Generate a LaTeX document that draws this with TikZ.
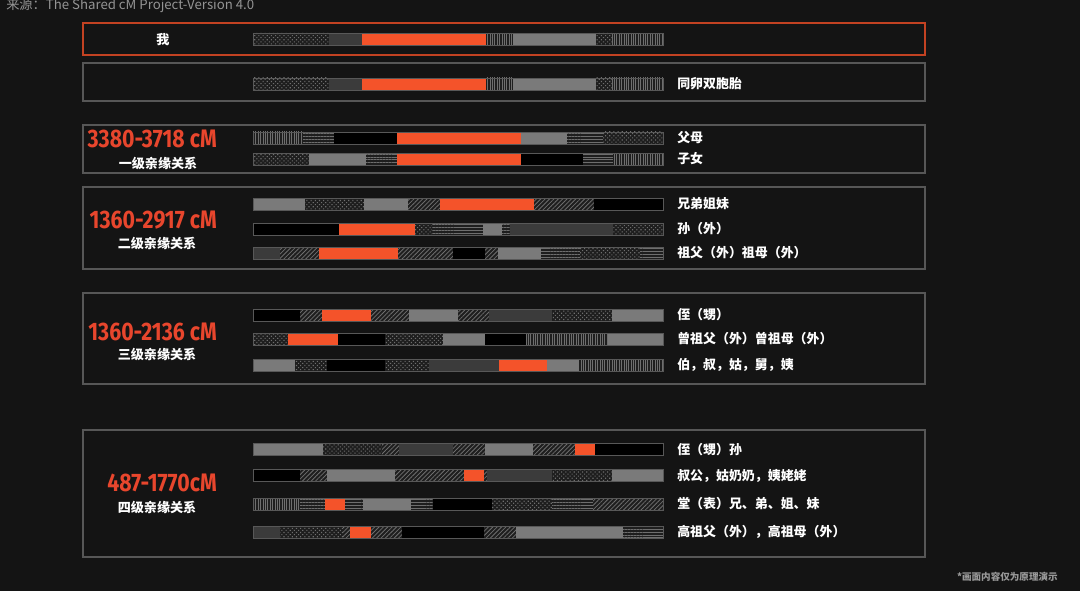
\documentclass[tikz,border=0pt]{standalone}
\usepackage{fontspec}
\usetikzlibrary{patterns.meta}
\newfontfamily\cjk{Noto Sans CJK SC}
\newfontfamily\numfont{Fira Sans}[FakeStretch=0.84]
\definecolor{Bg}{HTML}{141414}
\definecolor{Accent}{HTML}{F4532A}
\definecolor{NumRed}{HTML}{E8462D}
\definecolor{LightGray}{HTML}{7A7A7A}
\definecolor{DarkGray}{HTML}{3B3B3B}
\definecolor{PatBg}{HTML}{1E1E1E}
\definecolor{PatFg}{HTML}{6E6E6E}
\definecolor{Edge}{HTML}{585858}
\definecolor{Frame}{HTML}{575757}

\begin{document}
\begin{tikzpicture}[
    x=0.025cm, y=-0.025cm,
    frame/.style={draw=Frame, line width=0.8pt},
    selfframe/.style={draw=Accent!80!black, line width=1.3pt},
    baredge/.style={draw=Edge, line width=0.5pt},
    segorange/.style={fill=Accent},
    seglight/.style={fill=LightGray},
    segdark/.style={fill=DarkGray},
    segblack/.style={fill=black},
    segdots/.style={preaction={fill=PatBg}, pattern color=PatFg,
        pattern={Dots[distance=2.1pt, radius=0.55pt, angle=45]}},
    segvert/.style={preaction={fill=PatBg}, pattern color=PatFg,
        pattern={Lines[angle=90, distance=1.7pt, line width=0.55pt]}},
    seghorz/.style={preaction={fill=PatBg}, pattern color=PatFg,
        pattern={Lines[angle=0, distance=2.1pt, line width=0.55pt]}},
    seghatch/.style={preaction={fill=PatBg}, pattern color=PatFg,
        pattern={Lines[angle=45, distance=2.2pt, line width=0.6pt]}},
    relname/.style={font=\cjk\bfseries\fontsize{9.2}{10}\selectfont,
        text=white, anchor=west, inner sep=0pt},
    grade/.style={font=\cjk\bfseries\fontsize{9.3}{10}\selectfont,
        text=white, inner sep=0pt},
    cmrange/.style={font=\numfont\bfseries\fontsize{18}{19}\selectfont,
        text=NumRed, anchor=east, inner sep=0pt},
]

%% background
\fill[Bg] (0,0) rectangle (1080,591);
\useasboundingbox (0,0) rectangle (1080,591);

%% source line
\node[font=\cjk\fontsize{9.4}{10}\selectfont, text=black!42, anchor=west,
    inner sep=0pt] (source) at (6,6) {来源：The Shared cM Project-Version 4.0};

%% frames
\draw[selfframe] (83,23) rectangle (925,55);
\draw[frame] (83,63) rectangle (925,101);
\draw[frame] (83,125) rectangle (925,173);
\draw[frame] (83,187) rectangle (925,269);
\draw[frame] (83,293) rectangle (925,384);
\draw[frame] (83,430) rectangle (925,557);

%% me and twin
\node[grade] (me) at (163,40) {我};
\foreach \y in {33,78} {
    \foreach \a/\b/\s in {253/329/segdots, 329/362/segdark, 362/486/segorange,
        486/513/segvert, 513/596/seglight, 596/612/segdots, 612/663/segvert}
        \fill[\s] (\a,\y) rectangle (\b,\y+12);
    \draw[baredge] (253,\y) rectangle (663,\y+12);
}
\node[relname] (twin) at (677,84) {同卵双胞胎};

%% first degree
\node[cmrange] (range1) at (217,139) {3380-3718 cM};
\node[grade] (deg1) at (158,163) {一级亲缘关系};
\foreach \a/\b/\s in {253/303/segvert, 303/334/seghorz, 334/397/segblack,
    397/521/segorange, 521/567/seglight, 567/603/seghorz, 603/663/segdots}
    \fill[\s] (\a,132) rectangle (\b,144);
\foreach \a/\b/\s in {253/309/segdots, 309/366/seglight, 366/397/seghorz,
    397/521/segorange, 521/583/segblack, 583/613/seghorz, 613/663/segvert}
    \fill[\s] (\a,153) rectangle (\b,165);
\foreach \y in {132,153} \draw[baredge] (253,\y) rectangle (663,\y+12);
\node[relname] (parent) at (677,138) {父母};
\node[relname] (child) at (677,159) {子女};

%% second degree
\node[cmrange] (range2) at (217,220) {1360-2917 cM};
\node[grade] (deg2) at (157,243) {二级亲缘关系};
\foreach \a/\b/\s in {253/305/seglight, 305/364/segdots, 364/408/seglight,
    408/440/seghatch, 440/534/segorange, 534/594/seghatch, 594/663/segblack}
    \fill[\s] (\a,198) rectangle (\b,210);
\foreach \a/\b/\s in {253/339/segblack, 339/415/segorange, 415/432/segdots,
    432/483/seghorz, 483/502/seglight, 502/510/seghorz, 510/613/segdark,
    613/663/segdots}
    \fill[\s] (\a,223) rectangle (\b,235);
\foreach \a/\b/\s in {253/280/segdark, 280/319/seghatch, 319/398/segorange,
    398/453/seghatch, 453/485/segblack, 485/498/seghatch, 498/541/seglight,
    541/580/seghorz, 580/640/segdots, 640/663/seghorz}
    \fill[\s] (\a,247) rectangle (\b,259);
\foreach \y in {198,223,247} \draw[baredge] (253,\y) rectangle (663,\y+12);
\node[relname] (sibling) at (677,204) {兄弟姐妹};
\node[relname] (grandchild) at (677,229) {孙（外）};
\node[relname] (grandparent) at (677,253) {祖父（外）祖母（外）};

%% third degree
\node[cmrange] (range3) at (217,332) {1360-2136 cM};
\node[grade] (deg3) at (157,354) {三级亲缘关系};
\foreach \a/\b/\s in {253/300/segblack, 300/322/seghatch, 322/371/segorange,
    371/409/seghatch, 409/458/seglight, 458/489/seghatch, 489/552/segdark,
    552/612/segdots, 612/663/seglight}
    \fill[\s] (\a,309) rectangle (\b,321);
\foreach \a/\b/\s in {253/288/segdots, 288/338/segorange, 338/385/segblack,
    385/443/segdots, 443/485/seglight, 485/526/segblack, 526/608/segvert,
    608/663/seglight}
    \fill[\s] (\a,333) rectangle (\b,345);
\foreach \a/\b/\s in {253/295/seglight, 295/327/segdots, 327/385/segblack,
    385/429/segdots, 429/499/segdark, 499/547/segorange, 547/579/seglight,
    579/663/segvert}
    \fill[\s] (\a,359) rectangle (\b,371);
\foreach \y in {309,333,359} \draw[baredge] (253,\y) rectangle (663,\y+12);
\node[relname] (nephew) at (677,315) {侄（甥）};
\node[relname] (greatgp) at (677,339) {曾祖父（外）曾祖母（外）};
\node[relname] (uncle) at (677,365) {伯，叔，姑，舅，姨};

%% fourth degree
\node[cmrange] (range4) at (217,483) {487-1770cM};
\node[grade] (deg4) at (157,507) {四级亲缘关系};
\foreach \a/\b/\s in {253/323/seglight, 323/382/segdots, 382/399/seghatch,
    399/453/segdark, 453/485/seghatch, 485/533/seglight, 533/575/seghatch,
    575/595/segorange, 595/663/segblack}
    \fill[\s] (\a,443) rectangle (\b,455);
\foreach \a/\b/\s in {253/300/segblack, 300/327/seghatch, 327/395/seglight,
    395/464/seghatch, 464/484/segorange, 484/487/seghatch, 487/552/segdark,
    552/612/segdots, 612/663/seglight}
    \fill[\s] (\a,469) rectangle (\b,481);
\foreach \a/\b/\s in {253/300/segvert, 300/325/seghorz, 325/345/segorange,
    345/363/seghorz, 363/411/seglight, 411/433/seghorz, 433/492/segblack,
    492/552/segdots, 552/593/seghorz, 593/663/seghatch}
    \fill[\s] (\a,498) rectangle (\b,510);
\foreach \a/\b/\s in {253/280/segdark, 280/343/segdots, 343/350/seghatch,
    350/371/segorange, 371/402/seghatch, 402/484/segblack, 484/516/seghatch,
    516/623/seglight, 623/663/seghorz}
    \fill[\s] (\a,526) rectangle (\b,538);
\foreach \y in {443,469,498,526} \draw[baredge] (253,\y) rectangle (663,\y+12);
\node[relname] (grandnephew) at (677,450) {侄（甥）孙};
\node[relname] (granduncle) at (677,476) {叔公，姑奶奶，姨姥姥};
\node[relname] (cousin) at (677,504) {堂（表）兄、弟、姐、妹};
\node[relname] (gggp) at (677,532) {高祖父（外），高祖母（外）};

%% note
\node[font=\cjk\bfseries\fontsize{6.8}{7}\selectfont, text=black!40, anchor=east,
    inner sep=0pt] (note) at (1058,577) {*画面内容仅为原理演示};

\end{tikzpicture}
\end{document}
